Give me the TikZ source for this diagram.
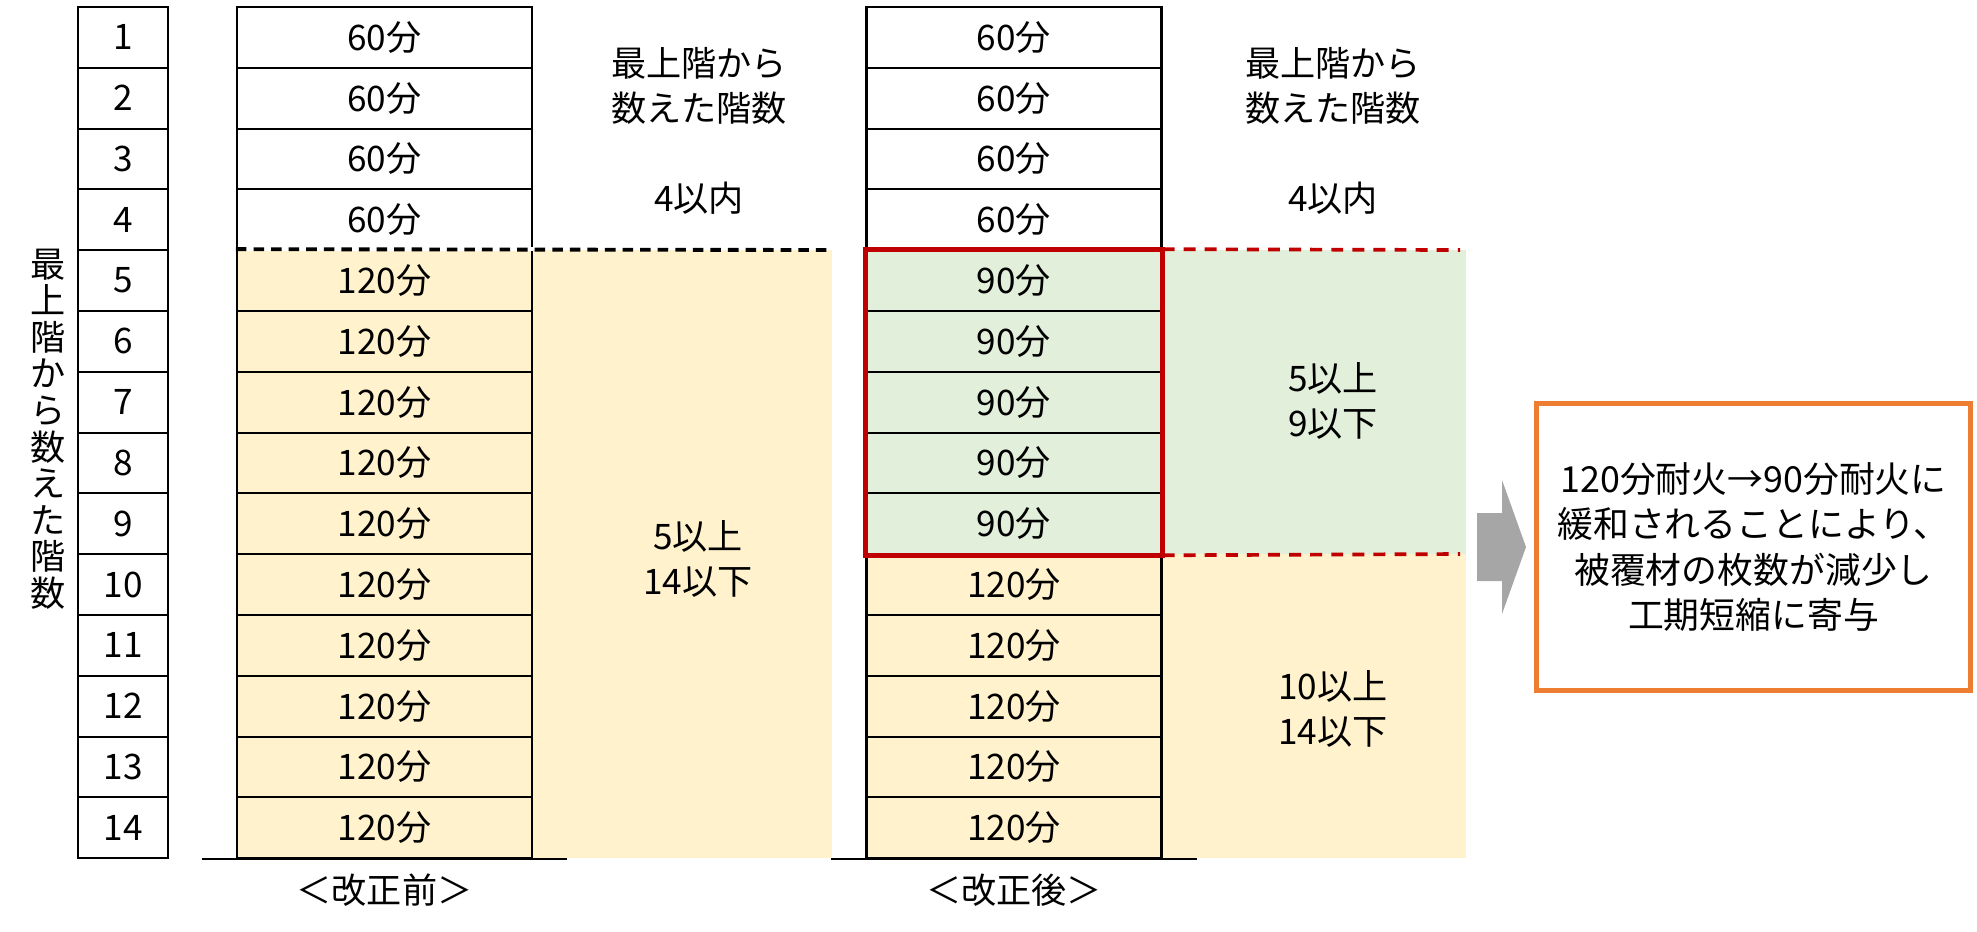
\documentclass[tikz,border=0pt]{standalone}
\usepackage{fontspec}
\setmainfont{Noto Sans CJK JP}
\usepackage{tikz}
\usetikzlibrary{positioning}
\definecolor{paleyellow}{HTML}{FFF2CC}
\definecolor{palegreen}{HTML}{E2EFDA}
\definecolor{deepred}{HTML}{C00000}
\definecolor{noteorange}{HTML}{ED7D31}
\definecolor{arrowgray}{HTML}{A6A6A6}
\tikzset{
  flrcell/.style  = {draw, line width=0.6pt, minimum width=0.9cm,
                     minimum height=0.608cm, inner sep=0pt,
                     font=\fontsize{10}{12}\selectfont},
  timecell/.style = {draw, line width=0.6pt, minimum width=2.95cm,
                     minimum height=0.608cm, inner sep=0pt,
                     font=\fontsize{10}{12}\selectfont},
  rngtxt/.style   = {align=center, inner sep=0pt,
                     font=\fontsize{10}{12.8}\selectfont},
  gndline/.style  = {line width=0.6pt},
  blkdash/.style  = {line width=1.1pt, dash pattern=on 3pt off 2pt},
  reddash/.style  = {deepred, line width=1.05pt, dash pattern=on 3.4pt off 2.6pt},
  redbox/.style   = {deepred, line width=1.4pt},
  notebox/.style  = {draw=noteorange, line width=1.42pt, minimum width=4.34cm,
                     minimum height=2.87cm, align=center, inner sep=0pt,
                     font=\fontsize{10.2}{12.9}\selectfont}
}

\begin{document}
\begin{tikzpicture}[y=-1cm]
  \useasboundingbox (0,0) rectangle (19.77,9.31);

  % range backgrounds
  \fill[paleyellow] (5.32,2.50) rectangle (8.32,8.58);
  \fill[palegreen]  (11.62,2.50) rectangle (14.66,5.54);
  \fill[paleyellow] (11.62,5.54) rectangle (14.66,8.58);

  % floor numbers, before and after
  \foreach \i in {1,...,14}{
    \node[flrcell] (f\i) at (1.23,{0.07+(\i-0.5)*0.608}) {\i};
  }
  \foreach \i in {1,...,4}{
    \node[timecell] (b\i) at (3.845,{0.07+(\i-0.5)*0.608}) {60分};
    \node[timecell] (a\i) at (10.14,{0.07+(\i-0.5)*0.608}) {60分};
  }
  \foreach \i in {5,...,14}{
    \node[timecell,fill=paleyellow] (b\i) at (3.845,{0.07+(\i-0.5)*0.608}) {120分};
  }
  \foreach \i in {5,...,9}{
    \node[timecell,fill=palegreen] (a\i) at (10.14,{0.07+(\i-0.5)*0.608}) {90分};
  }
  \foreach \i in {10,...,14}{
    \node[timecell,fill=paleyellow] (a\i) at (10.14,{0.07+(\i-0.5)*0.608}) {120分};
  }

  \node[rngtxt,font=\fontsize{10}{10.4}\selectfont] (vlabel) at (0.48,4.29)
       {最\\上\\階\\か\\ら\\数\\え\\た\\階\\数};

  % limits
  \draw[white,line width=1.1pt] (b5.north west) -- (b5.north east);
  \draw[blkdash] (b5.north west) -- (8.32,2.50);
  \draw[reddash] (a5.north east) -- (14.60,2.50);
  \draw[reddash] (a9.south east) -- (14.60,5.54);
  \draw[redbox] (a5.north west) rectangle (a9.south east);

  \draw[gndline] ([xshift=-0.34cm]b14.south west) -- ([xshift=0.34cm]b14.south east);
  \draw[gndline] ([xshift=-0.34cm]a14.south west) -- ([xshift=0.34cm]a14.south east);

  \node[rngtxt] (bhead)  at (6.99,0.855) {最上階から\\数えた階数};
  \node[rngtxt] (bfour)  at (6.99,1.98)  {4以内};
  \node[rngtxt] (bmid)   at (6.98,5.585) {5以上\\14以下};
  \node[rngtxt] (ahead)  at (13.33,0.855) {最上階から\\数えた階数};
  \node[rngtxt] (afour)  at (13.33,1.98)  {4以内};
  \node[rngtxt] (aupper) at (13.33,4.01)  {5以上\\9以下};
  \node[rngtxt] (alower) at (13.33,7.085) {10以上\\14以下};

  \node[rngtxt] (before) at (3.845,8.90) {＜改正前＞};
  \node[rngtxt] (after)  at (10.14,8.90) {＜改正後＞};

  \fill[arrowgray] (14.77,5.13) -- (15.02,5.13) -- (15.02,4.80) -- (15.26,5.47)
        -- (15.02,6.14) -- (15.02,5.81) -- (14.77,5.81) -- cycle;
  \node[notebox] (note) at (17.535,5.47)
       {120分耐火→90分耐火に\\緩和されることにより、\\被覆材の枚数が減少し\\工期短縮に寄与};
\end{tikzpicture}
\end{document}
